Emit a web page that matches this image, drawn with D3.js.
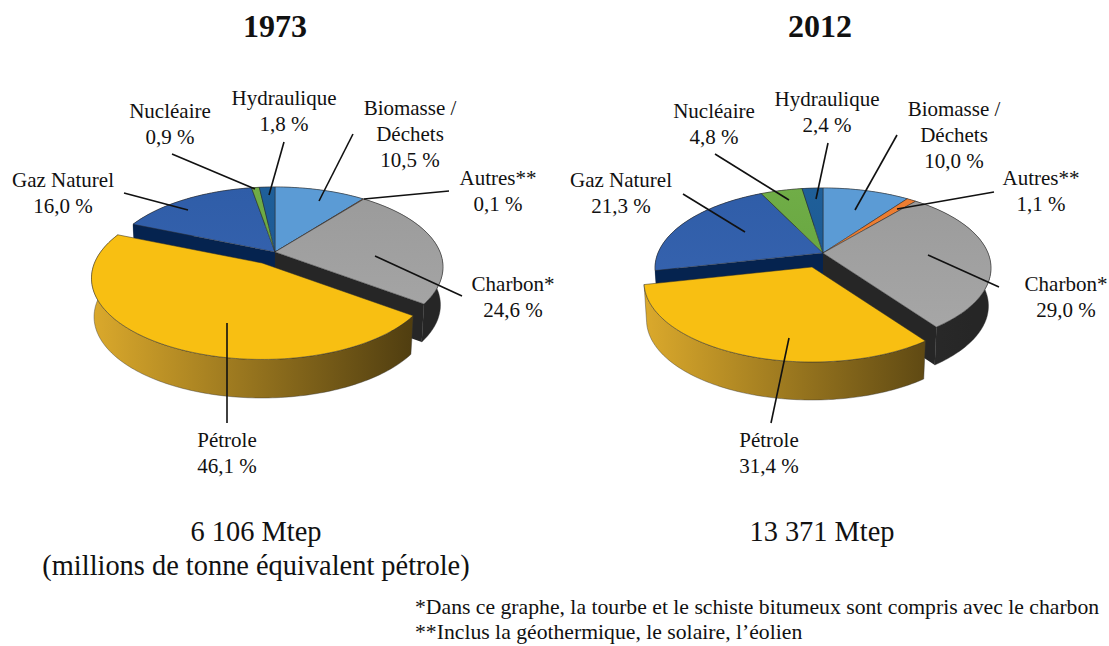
<!DOCTYPE html>
<html>
<head>
<meta charset="utf-8">
<script src="https://cdn.jsdelivr.net/npm/d3@7"></script>
<style>
  body { margin: 0; background: #fff; }
  text { font-family: "Liberation Serif", serif; fill: #111; }
</style>
</head>
<body>
<svg id="chart" width="1109" height="646"></svg>
<script>
// Data
const categories = ["Biomasse / Déchets", "Autres**", "Charbon*", "Pétrole", "Gaz Naturel", "Nucléaire", "Hydraulique"];
const values1973 = [10.5, 0.1, 24.6, 46.1, 16.0, 0.9, 1.8];
const values2012 = [10.0, 1.1, 29.0, 31.4, 21.3, 4.8, 2.4];
const totals = ["6 106 Mtep", "13 371 Mtep"];

// top colour, bottom colour of the face, then the wall colours left -> right
const colors = [
    { top: "#5b9bd5", bottom: "#5b9bd5", wall: ["#3f6e99", "#2d4f6e"] },
    { top: "#ed7d31", bottom: "#ed7d31", wall: ["#a8561f", "#7a3f16"] },
    { top: "#9a9a9a", bottom: "#a8a8a8", wall: ["#3a3a3a", "#262626"] },
    { top: "#f8bf12", bottom: "#f8bf12", wall: ["#dcaa2c", "#4f3d10"] },
    { top: "#2f5da8", bottom: "#3a66b2", wall: ["#05234f", "#05234f"] },
    { top: "#70ad47", bottom: "#5fa03a", wall: ["#3f6b24", "#3f6b24"] },
    { top: "#1f5f99", bottom: "#1a5590", wall: ["#103a60", "#103a60"] }
];

// label layout for each pie: text anchor x, first baseline y, leader from -> to
const layout1973 = [
    { x: 410, y: 115, lines: ["Biomasse /", "Déchets", "10,5 %"], leader: [[353, 134], [319, 201]] },
    { x: 498, y: 185, lines: ["Autres**", "0,1 %"], leader: [[449, 191], [364, 199]] },
    { x: 513, y: 291, lines: ["Charbon*", "24,6 %"], leader: [[462, 296], [375, 256]] },
    { x: 227, y: 447, lines: ["Pétrole", "46,1 %"], leader: [[227, 423], [227, 323]] },
    { x: 63, y: 187, lines: ["Gaz Naturel", "16,0 %"], leader: [[124, 193], [188, 210]] },
    { x: 170, y: 118, lines: ["Nucléaire", "0,9 %"], leader: [[172, 154], [255, 189]] },
    { x: 284, y: 105, lines: ["Hydraulique", "1,8 %"], leader: [[284, 142], [269, 195]] }
];
const layout2012 = [
    { x: 954, y: 116, lines: ["Biomasse /", "Déchets", "10,0 %"], leader: [[897, 135], [855, 210]] },
    { x: 1041, y: 185, lines: ["Autres**", "1,1 %"], leader: [[994, 192], [897, 209]] },
    { x: 1066, y: 291, lines: ["Charbon*", "29,0 %"], leader: [[999, 287], [928, 255]] },
    { x: 769, y: 447, lines: ["Pétrole", "31,4 %"], leader: [[771, 423], [789, 338]] },
    { x: 621, y: 187, lines: ["Gaz Naturel", "21,3 %"], leader: [[683, 194], [745, 232]] },
    { x: 714, y: 118, lines: ["Nucléaire", "4,8 %"], leader: [[715, 154], [789, 200]] },
    { x: 827, y: 106, lines: ["Hydraulique", "2,4 %"], leader: [[828, 143], [816, 199]] }
];

const pies = [
    { title: "1973", titleX: 275, values: values1973, layout: layout1973, cx: 275, cy: 252, explode: [-13, 11], zoom: 1.015 },
    { title: "2012", titleX: 820, values: values2012, layout: layout2012, cx: 823, cy: 253, explode: [-11, 14], zoom: 1 }
];

const svg = d3.select("#chart");
const defs = svg.append("defs");

// perspective disc seen from above
const Rx = 165, Ry = 77.2, persp = 0.1875, depth = 38, shrink = 0.985;
function project(a) {
    const u = Math.sin(a), v = -Math.cos(a);
    const p = 1 / (1 - persp * v);
    return [Rx * u * p, Ry * v * p];
}
const lower = p => [p[0] * shrink, p[1] + depth];

const pie = d3.pie().sort(null).value(d => d).startAngle(0).endAngle(2 * Math.PI);
const line = d3.line();

function arcPoints(a0, a1) {
    const n = Math.max(2, Math.ceil((a1 - a0) / 0.02));
    return d3.range(n + 1).map(i => project(a0 + (a1 - a0) * i / n));
}

function drawWall(parent, d, i, pi) {
    const rim = arcPoints(d.startAngle, d.endAngle);
    parent.append("path")
        .attr("d", line(rim.concat(rim.map(lower).reverse())) + "Z")
        .attr("fill", `url(#wall${pi}-${i})`)
        .attr("stroke", "#333").attr("stroke-width", 0.4);
}

function drawFace(parent, d, i, pi) {
    parent.append("path")
        .attr("d", line([[0, 0]].concat(arcPoints(d.startAngle, d.endAngle))) + "Z")
        .attr("fill", `url(#face${pi}-${i})`)
        .attr("stroke", "#2a2a2a").attr("stroke-width", 0.5);
}

const CHARBON = categories.indexOf("Charbon*");
const PETROLE = categories.indexOf("Pétrole");
const GAZ = categories.indexOf("Gaz Naturel");

pies.forEach((chart, pi) => {
    const g = svg.append("g").attr("transform", `translate(${chart.cx},${chart.cy})`);
    const arcs = pie(chart.values);

    arcs.forEach((d, i) => {
        const face = defs.append("linearGradient").attr("id", `face${pi}-${i}`)
            .attr("gradientUnits", "userSpaceOnUse")
            .attr("x1", 0).attr("x2", 0).attr("y1", -65).attr("y2", 95);
        face.append("stop").attr("offset", 0).attr("stop-color", colors[i].top);
        face.append("stop").attr("offset", 1).attr("stop-color", colors[i].bottom);
        const wall = defs.append("linearGradient").attr("id", `wall${pi}-${i}`)
            .attr("gradientUnits", "userSpaceOnUse")
            .attr("x1", -170).attr("x2", 150).attr("y1", 0).attr("y2", 0);
        wall.append("stop").attr("offset", 0).attr("stop-color", colors[i].wall[0]);
        wall.append("stop").attr("offset", 1).attr("stop-color", colors[i].wall[1]);
    });

    // walls of the unexploded slices go first, the faces then hide the back part
    arcs.forEach((d, i) => { if (i !== PETROLE) drawWall(g, d, i, pi); });

    // the two cut walls left open by the exploded slice
    const charbonEnd = project(arcs[CHARBON].endAngle);
    const gazStart = project(arcs[GAZ].startAngle);
    [[charbonEnd, CHARBON], [gazStart, GAZ]].forEach(([p, i]) => {
        g.append("path")
            .attr("d", line([[0, 0], p, lower(p), [0, depth]]) + "Z")
            .attr("fill", colors[i].wall[1]);
    });

    arcs.forEach((d, i) => { if (i !== PETROLE) drawFace(g, d, i, pi); });

    // exploded Pétrole on top of everything
    const s = g.append("g")
        .attr("transform", `translate(${chart.explode[0]},${chart.explode[1]}) scale(${chart.zoom})`);
    drawWall(s, arcs[PETROLE], PETROLE, pi);
    drawFace(s, arcs[PETROLE], PETROLE, pi);

    // leaders
    svg.append("g").selectAll("line").data(chart.layout).join("line")
        .attr("x1", d => d.leader[0][0]).attr("y1", d => d.leader[0][1])
        .attr("x2", d => d.leader[1][0]).attr("y2", d => d.leader[1][1])
        .attr("stroke", "#111").attr("stroke-width", 1.6);

    // labels
    const labels = svg.append("g").selectAll("text").data(chart.layout).join("text")
        .attr("text-anchor", "middle").attr("font-size", 21)
        .attr("x", d => d.x).attr("y", d => d.y);
    labels.selectAll("tspan").data(d => d.lines.map(l => ({ l, x: d.x }))).join("tspan")
        .attr("x", d => d.x).attr("dy", (d, i) => i ? 26 : 0).text(d => d.l);

    // title
    svg.append("text").attr("x", chart.titleX).attr("y", 37)
        .attr("text-anchor", "middle").attr("font-size", 32).attr("font-weight", "bold")
        .text(chart.title);
});

// totals and notes
svg.append("text").attr("x", 256).attr("y", 541).attr("text-anchor", "middle").attr("font-size", 28.4).text(totals[0]);
svg.append("text").attr("x", 256).attr("y", 575).attr("text-anchor", "middle").attr("font-size", 28.4).text("(millions de tonne équivalent pétrole)");
svg.append("text").attr("x", 822).attr("y", 541).attr("text-anchor", "middle").attr("font-size", 28.4).text(totals[1]);
svg.append("text").attr("x", 415).attr("y", 614).attr("font-size", 21.7).text("*Dans ce graphe, la tourbe et le schiste bitumeux sont compris avec le charbon");
svg.append("text").attr("x", 415).attr("y", 639).attr("font-size", 21.7).text("**Inclus la géothermique, le solaire, l’éolien");
</script>
</body>
</html>
